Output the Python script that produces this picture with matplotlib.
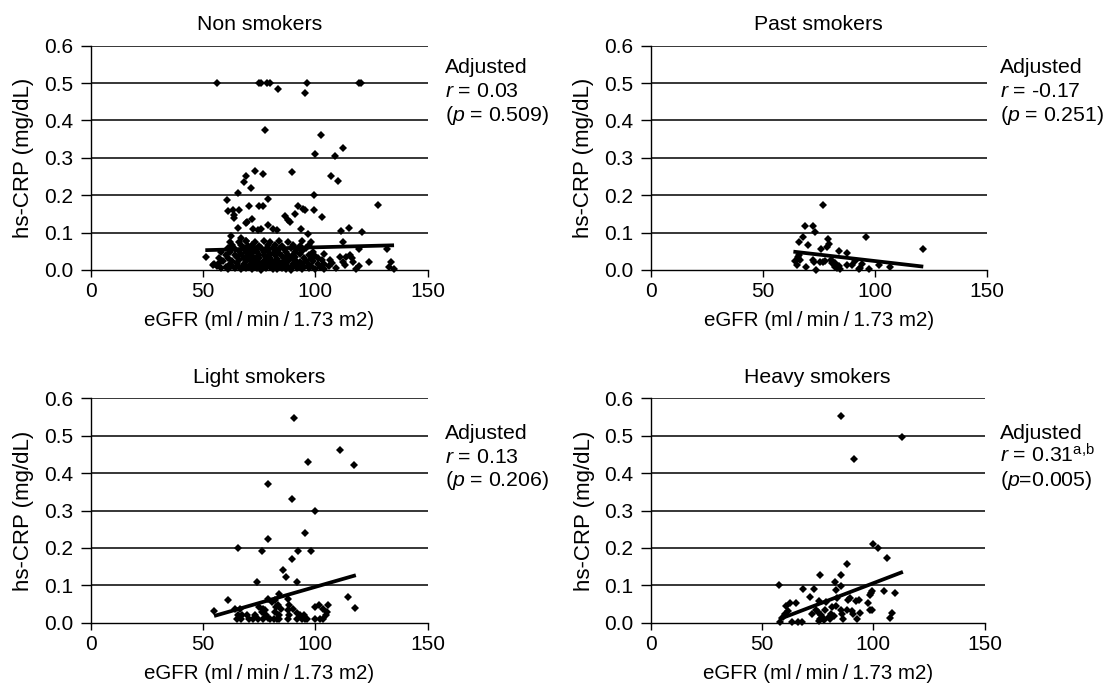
import matplotlib
matplotlib.use("Agg")
import matplotlib.pyplot as plt

plt.rcParams["font.family"] = ["Liberation Sans", "DejaVu Sans"]
plt.rcParams["mathtext.fontset"] = "custom"
plt.rcParams["mathtext.rm"] = "Liberation Sans"
plt.rcParams["mathtext.it"] = "Liberation Sans:italic"

# --- data (eGFR vs hs-CRP) ---
titles = ["Non smokers", "Past smokers", "Light smokers", "Heavy smokers"]
r_texts = ["$r$ = 0.03", "$r$ = -0.17", "$r$ = 0.13", "$r$ = 0.31$^{\\rm a{,}b}$"]
p_texts = ["($p$ = 0.509)", "($p$ = 0.251)", "($p$ = 0.206)", "($p$=0.005)"]
y_ticks = [0.0, 0.1, 0.2, 0.3, 0.4, 0.5, 0.6]
x_ticks = [0, 50, 100, 150]

non_x = [56.2, 74.9, 75.7, 78.3, 79.8, 83.4, 96.1, 95.4, 119.6, 120.3,
         77.7, 102.4, 112.4, 99.7, 108.7, 73.3, 76.8, 69.0, 68.4, 89.6,
         71.2, 65.6, 106.8, 110.2, 99.5, 60.5, 127.9, 70.5, 74.8, 76.6,
         78.9, 61.3, 63.5, 66.1, 63.6, 63.6, 71.8, 69.4, 69.0, 86.5,
         88.0, 88.7, 91.1, 92.4, 95.4, 99.5, 103.1, 94.6, 65.6, 72.1,
         74.3, 75.8, 79.1, 81.0, 83.1, 111.5, 115.1, 120.9, 93.5, 96.9,
         62.4, 66.9, 69.0, 112.4, 119.6, 132.0,
         111.0, 113.5, 115.4, 116.2, 116.6, 112.4, 113.2, 123.7, 133.7, 132.8,
         135.1, 119.6, 118.1, 103.8, 106.5, 107.3, 51.2, 54.6, 57.2]
non_y = [0.500, 0.500, 0.500, 0.500, 0.500, 0.483, 0.500, 0.474, 0.500, 0.500,
         0.375, 0.361, 0.327, 0.309, 0.306, 0.266, 0.257, 0.252, 0.235, 0.261,
         0.218, 0.205, 0.252, 0.239, 0.201, 0.187, 0.175, 0.170, 0.170, 0.170,
         0.191, 0.158, 0.161, 0.161, 0.147, 0.138, 0.136, 0.129, 0.125, 0.144,
         0.134, 0.127, 0.150, 0.170, 0.161, 0.161, 0.143, 0.162, 0.113, 0.110,
         0.107, 0.110, 0.119, 0.110, 0.107, 0.105, 0.113, 0.101, 0.109, 0.095,
         0.091, 0.085, 0.077, 0.074, 0.057, 0.056,
         0.036, 0.036, 0.040, 0.031, 0.022, 0.022, 0.013, 0.022, 0.022, 0.009,
         0.002, 0.011, 0.002, 0.043, 0.027, 0.018, 0.036, 0.013, 0.018]

# the dense mass of non smokers near the bottom
non_dense_x = [58, 61, 64, 67, 69, 72, 74, 76, 78, 81, 83, 85, 87, 89, 92, 94, 97, 100, 104, 109,
               56, 60, 63, 66, 68, 70, 73, 75, 77, 80, 82, 84, 86, 88, 90, 93, 95, 98, 102, 106,
               55, 62, 65, 68, 71, 73, 76, 79, 81, 83, 85, 87, 90, 92, 94, 97, 101, 104,
               59, 63, 66, 69, 72, 74, 77, 80, 82, 84, 86, 88, 91, 93, 96, 99, 103,
               57, 61, 65, 68, 70, 73, 75, 78, 80, 83, 86, 89, 91, 95, 98, 101,
               60, 64, 67, 70, 72, 75, 77, 80, 82, 85, 88, 90, 93, 97, 100,
               58, 62, 66, 69, 72, 74, 77, 79, 82, 84, 87, 91, 94, 99,
               61, 64, 68, 71, 73, 76, 78, 81, 84, 86, 89, 92, 96,
               63, 67, 70, 72, 75, 79, 82, 85, 90, 93, 97,
               62, 66, 69, 73, 77, 80, 84, 88, 94, 98]
non_dense_y = [.004, .002, .005, .003, .006, .002, .004, .001, .005, .003, .002, .006, .003, .001, .004, .002, .005, .003, .002, .004,
               .010, .008, .011, .009, .012, .008, .010, .012, .009, .008, .011, .009, .012, .008, .010, .011, .008, .010, .009, .011,
               .017, .015, .018, .016, .014, .018, .016, .015, .019, .016, .014, .017, .015, .018, .016, .014, .017, .015,
               .025, .023, .026, .024, .022, .025, .023, .026, .024, .022, .025, .023, .026, .022, .025, .023, .026,
               .033, .031, .034, .032, .030, .033, .031, .034, .032, .030, .033, .031, .034, .032, .030, .033,
               .041, .039, .042, .040, .038, .041, .039, .043, .040, .038, .041, .039, .042, .040, .038,
               .049, .047, .050, .048, .046, .049, .047, .050, .048, .046, .049, .047, .050, .048,
               .058, .056, .059, .057, .055, .058, .056, .059, .057, .055, .058, .056, .059,
               .066, .068, .065, .067, .064, .068, .066, .064, .067, .065, .068,
               .076, .074, .078, .075, .077, .074, .078, .075, .077, .074]

past_x = [76.8, 69.0, 72.5, 73.3, 68.1, 66.1, 70.4, 79.1, 79.5, 78.8,
          76.2, 96.1, 84.1, 87.7, 121.7, 64.4, 65.4, 65.9, 66.6, 69.2,
          72.6, 72.9, 74.0, 75.8, 77.0, 77.8, 80.4, 81.3, 82.3, 80.8,
          82.3, 83.3, 84.2, 84.5, 87.5, 89.7, 94.3, 93.5, 92.8, 97.6,
          102.0, 106.8, 66.3, 91.2]
past_y = [0.175, 0.118, 0.118, 0.101, 0.087, 0.074, 0.067, 0.083, 0.069, 0.062,
          0.057, 0.087, 0.052, 0.045, 0.057, 0.024, 0.013, 0.034, 0.027, 0.009,
          0.027, 0.021, 0.000, 0.021, 0.022, 0.024, 0.027, 0.022, 0.018, 0.018,
          0.009, 0.004, 0.011, 0.002, 0.013, 0.013, 0.015, 0.006, 0.002, 0.003,
          0.013, 0.009, 0.040, 0.024]

light_x = [90.4, 111.0, 96.7, 117.2, 79.1, 89.6, 99.7, 95.4, 79.1, 65.6,
           76.1, 92.4, 98.1, 89.6, 85.5, 86.8, 74.0, 91.8, 114.4, 117.8,
           61.3, 84.0, 55.0, 64.2, 66.5, 65.7, 67.2, 65.0, 69.4, 66.8,
           70.6, 72.4, 73.1, 74.8, 76.6, 76.1, 77.6, 78.0, 74.6, 76.8,
           79.1, 79.8, 81.6, 82.8, 83.9, 80.6, 82.0, 79.1, 82.3, 83.5,
           84.7, 82.0, 83.8, 88.0, 88.4, 88.0, 88.4, 88.0, 90.2, 91.7,
           91.7, 93.2, 93.9, 94.9, 95.4, 96.4, 99.8, 101.8, 103.3, 105.0,
           105.8, 104.7, 103.5, 102.1, 99.8]
light_y = [0.548, 0.462, 0.431, 0.422, 0.370, 0.331, 0.300, 0.240, 0.223, 0.201,
           0.193, 0.193, 0.193, 0.170, 0.141, 0.122, 0.110, 0.110, 0.070, 0.040,
           0.062, 0.078, 0.031, 0.038, 0.038, 0.021, 0.021, 0.009, 0.021, 0.009,
           0.009, 0.009, 0.021, 0.041, 0.038, 0.029, 0.034, 0.021, 0.009, 0.009,
           0.012, 0.009, 0.009, 0.009, 0.009, 0.056, 0.061, 0.063, 0.041, 0.047,
           0.038, 0.029, 0.021, 0.063, 0.047, 0.034, 0.021, 0.009, 0.038, 0.025,
           0.009, 0.021, 0.009, 0.021, 0.009, 0.009, 0.041, 0.047, 0.038, 0.029,
           0.047, 0.021, 0.009, 0.009, 0.009]

heavy_x = [85.5, 112.9, 91.3, 99.9, 102.1, 106.3, 88.3, 76.0, 85.5, 82.6,
           57.5, 68.3, 73.2, 85.6, 83.4, 104.8, 109.9, 98.8, 99.2, 71.7,
           75.6, 62.7, 65.4, 60.6, 60.2, 61.7, 59.6, 63.5, 66.2, 68.1,
           57.9, 72.6, 74.1, 75.1, 76.7, 77.7, 76.2, 78.6, 78.1, 80.1,
           81.2, 82.2, 81.6, 83.1, 83.7, 85.6, 86.1, 86.4, 88.2, 88.6,
           89.7, 90.6, 90.9, 92.4, 93.6, 94.2, 92.7, 97.6, 98.4, 99.6,
           108.5, 107.6, 75.5, 80.5, 78.0, 98.4]
heavy_y = [0.552, 0.498, 0.438, 0.210, 0.201, 0.174, 0.158, 0.127, 0.127, 0.109,
           0.100, 0.091, 0.091, 0.097, 0.087, 0.084, 0.080, 0.080, 0.085, 0.069,
           0.057, 0.054, 0.054, 0.044, 0.023, 0.032, 0.016, 0.002, 0.002, 0.002,
           0.002, 0.023, 0.035, 0.029, 0.020, 0.011, 0.009, 0.056, 0.035, 0.016,
           0.023, 0.017, 0.042, 0.044, 0.067, 0.035, 0.023, 0.011, 0.035, 0.060,
           0.067, 0.032, 0.022, 0.057, 0.060, 0.027, 0.009, 0.053, 0.035, 0.033,
           0.027, 0.013, 0.004, 0.010, 0.008, 0.074]

# fitted lines (end points)
non_trend_x = [51.0, 135.0]
non_trend_y = [0.053, 0.066]
past_trend_x = [63.7, 121.7]
past_trend_y = [0.049, 0.009]
light_trend_x = [54.9, 118.0]
light_trend_y = [0.018, 0.127]
heavy_trend_x = [57.5, 113.3]
heavy_trend_y = [0.009, 0.136]


def draw_panel(ax, title, xs, ys, tx, ty, r_text, p_text, text_x, text_y):
    for x, y in zip(xs, ys):
        ax.plot(x, y, "D", color="black", markersize=3.7, markeredgewidth=0, clip_on=False)
    ax.plot(tx, ty, color="black", linewidth=2.7, solid_capstyle="butt")

    ax.set_xlim(0, 150)
    ax.set_ylim(0, 0.6)
    ax.set_xticks(x_ticks)
    ax.set_yticks(y_ticks)
    ax.set_yticklabels([f"{v:.1f}" for v in y_ticks])
    for v in y_ticks[1:]:
        ax.axhline(v, color="black", linewidth=1.1, zorder=0)

    for side in ["top", "right"]:
        ax.spines[side].set_visible(False)
    for side in ["left", "bottom"]:
        ax.spines[side].set_linewidth(1.0)
    ax.tick_params(axis="x", direction="out", length=5, width=1.0, labelsize=15, pad=4)
    ax.tick_params(axis="y", direction="out", length=7, width=1.0, labelsize=15, pad=5.5)

    ax.set_title(title, fontsize=15.3, pad=11)
    ax.set_xlabel("eGFR (ml\u2009/\u2009min\u2009/\u20091.73 m2)", fontsize=14.8, labelpad=7)
    ax.set_ylabel("hs-CRP (mg/dL)", fontsize=16, labelpad=7)

    step = 0.105
    ax.text(text_x, text_y, "Adjusted", transform=ax.transAxes, fontsize=15.3, va="baseline")
    ax.text(text_x, text_y - step, r_text, transform=ax.transAxes, fontsize=15.3, va="baseline")
    ax.text(text_x, text_y - 2 * step, p_text, transform=ax.transAxes, fontsize=15.3, va="baseline")


def main():
    fig = plt.figure(figsize=(11.05, 6.84), dpi=100)
    positions = [
        [0.0821, 0.6053, 0.305, 0.328],
        [0.5889, 0.6053, 0.304, 0.328],
        [0.0821, 0.0896, 0.305, 0.328],
        [0.5890, 0.0896, 0.302, 0.328],
    ]
    series = [
        (non_x + non_dense_x, non_y + non_dense_y, non_trend_x, non_trend_y),
        (past_x, past_y, past_trend_x, past_trend_y),
        (light_x, light_y, light_trend_x, light_trend_y),
        (heavy_x, heavy_y, heavy_trend_x, heavy_trend_y),
    ]
    text_pos = [(1.051, 0.876), (1.04, 0.876), (1.051, 0.818), (1.045, 0.818)]

    for i in range(4):
        ax = fig.add_axes(positions[i])
        xs, ys, tx, ty = series[i]
        draw_panel(ax, titles[i], xs, ys, tx, ty, r_texts[i], p_texts[i], *text_pos[i])

    fig.savefig("out.png", dpi=100)
    plt.close(fig)


if __name__ == "__main__":
    main()
